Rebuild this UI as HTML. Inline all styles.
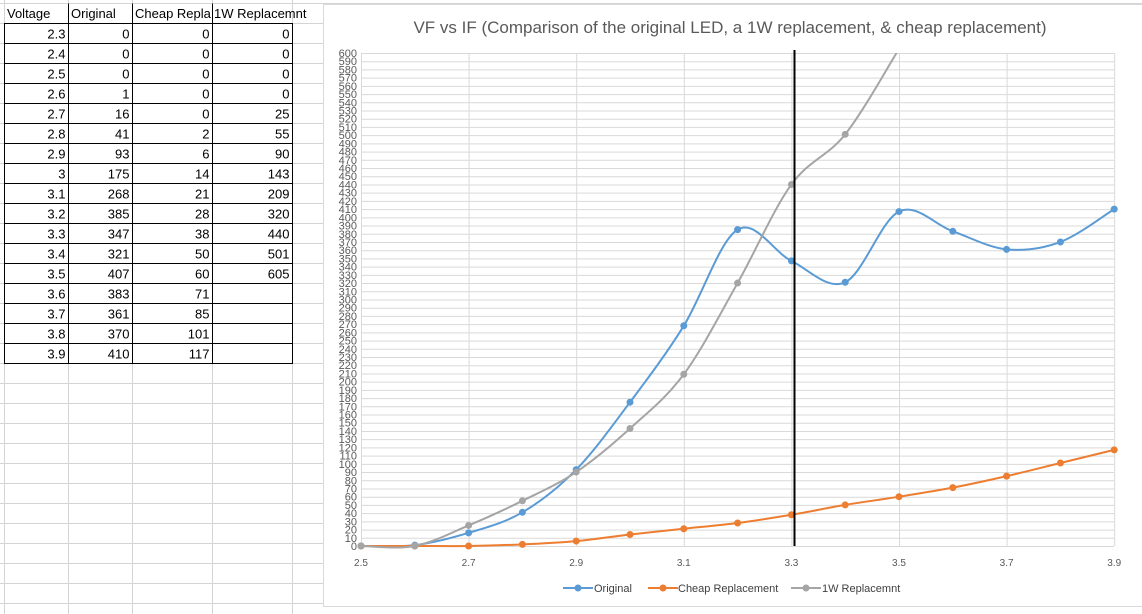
<!DOCTYPE html>
<html><head><meta charset="utf-8"><style>
body{margin:0;width:1142px;height:614px;overflow:hidden;background:#fff;font-family:"Liberation Sans",sans-serif}
svg{position:absolute;left:0;top:0}
</style></head><body>
<svg id="s" width="1142" height="614" xmlns="http://www.w3.org/2000/svg" font-family="Liberation Sans, sans-serif">
<g id="grid" stroke="#d4d4d4" stroke-width="1"></g>
<g id="tbl" font-size="13" fill="#000"></g>
<rect x="323.5" y="4.5" width="830" height="602" fill="#fff" stroke="#d9d9d9"/>
<text x="730" y="33" font-size="17" fill="#595959" text-anchor="middle">VF vs IF (Comparison of the original LED, a 1W replacement, &amp; cheap replacement)</text>
<g id="plot"></g>
<g font-size="11" fill="#404040">
<line x1="563" y1="588" x2="593" y2="588" stroke="#5b9bd5" stroke-width="2"/><circle cx="578" cy="588" r="3.5" fill="#5b9bd5"/><text x="594" y="592">Original</text>
<line x1="648" y1="588" x2="678" y2="588" stroke="#ed7d31" stroke-width="2"/><circle cx="663" cy="588" r="3.5" fill="#ed7d31"/><text x="678" y="592">Cheap Replacement</text>
<line x1="791" y1="588" x2="821" y2="588" stroke="#a5a5a5" stroke-width="2"/><circle cx="806" cy="588" r="3.5" fill="#a5a5a5"/><text x="822" y="592">1W Replacemnt</text>
</g>
</svg>
<script>
const NS="http://www.w3.org/2000/svg";
function el(p,t,a,txt){const e=document.createElementNS(NS,t);for(const k in a)e.setAttribute(k,a[k]);if(txt!==undefined)e.textContent=txt;p.appendChild(e);return e;}
const g=document.getElementById('grid');
for(let y=3.5;y<614;y+=20)el(g,'line',{x1:0,y1:y,x2:1142,y2:y});
[4.5,68.5,132.5,212.5,292.5].forEach(x=>el(g,'line',{x1:x,y1:0,x2:x,y2:614}));
const t=document.getElementById('tbl');
const rows=[["2.3",0,0,0],["2.4",0,0,0],["2.5",0,0,0],["2.6",1,0,0],["2.7",16,0,25],["2.8",41,2,55],["2.9",93,6,90],["3",175,14,143],["3.1",268,21,209],["3.2",385,28,320],["3.3",347,38,440],["3.4",321,50,501],["3.5",407,60,605],["3.6",383,71,""],["3.7",361,85,""],["3.8",370,101,""],["3.9",410,117,""]];
el(t,'text',{x:7,y:18},'Voltage');el(t,'text',{x:71,y:18},'Original');el(t,'text',{x:135,y:18},'Cheap Repla');el(t,'text',{x:214,y:18},'1W Replacemnt');
const cx=[4.5,68.5,132.5,212.5,292.5];
rows.forEach((r,i)=>{const y=23.5+i*20;r.forEach((v,j)=>{el(t,'text',{x:cx[j+1]-3,y:y+15,'text-anchor':'end'},String(v));});});
el(t,'rect',{x:4.5,y:23.5,width:288,height:340,fill:'none',stroke:'#000'});
for(let i=1;i<17;i++)el(t,'line',{x1:4.5,y1:23.5+i*20,x2:292.5,y2:23.5+i*20,stroke:'#000'});
[68.5,132.5,212.5].forEach(x=>el(t,'line',{x1:x,y1:3.5,x2:x,y2:363.5,stroke:'#000'}));
// plot
const p=document.getElementById('plot');
const X=v=>361+(v-2.5)/0.1*53.8, Y=v=>546-v*0.8217;
for(let v=0;v<=600;v+=10){el(p,'line',{x1:362,y1:Y(v)+.5,x2:1114,y2:Y(v)+.5,stroke:'#d9d9d9'});el(p,'text',{x:357,y:Y(v)+4,'font-size':11,fill:'#595959','text-anchor':'end'},String(v));}
for(let i=0;i<=7;i++){const v=2.5+i*0.2;el(p,'line',{x1:X(v)+.5,y1:Y(600),x2:X(v)+.5,y2:546,stroke:'#d9d9d9'});el(p,'text',{x:X(v),y:566,'font-size':10,fill:'#595959','text-anchor':'middle'},v.toFixed(1));}
const cp=el(p,'clipPath',{id:'c'});el(cp,'rect',{x:355,y:Y(600),width:770,height:560});
function curve(d,col){const pts=d.map((v,i)=>[X(2.5+i*0.1),Y(v)]);let s='M'+pts[0];for(let i=0;i<pts.length-1;i++){const p0=pts[Math.max(0,i-1)],p1=pts[i],p2=pts[i+1],p3=pts[Math.min(pts.length-1,i+2)];const k=1/6;s+=` C${p1[0]+(p2[0]-p0[0])*k},${p1[1]+(p2[1]-p0[1])*k} ${p2[0]-(p3[0]-p1[0])*k},${p2[1]-(p3[1]-p1[1])*k} ${p2[0]},${p2[1]}`;}
const gg=el(p,'g',{'clip-path':'url(#c)'});el(gg,'path',{d:s,fill:'none',stroke:col,'stroke-width':2});pts.forEach(q=>{if(q[1]>=Y(600))el(gg,'circle',{cx:q[0],cy:q[1],r:3.5,fill:col});});}
curve([0,1,16,41,93,175,268,385,347,321,407,383,361,370,410],'#5b9bd5');
curve([0,0,0,2,6,14,21,28,38,50,60,71,85,101,117],'#ed7d31');
curve([0,0,25,55,90,143,209,320,440,501,605],'#a5a5a5');
el(p,'line',{x1:794.5,y1:50,x2:794.5,y2:546,stroke:'#000','stroke-width':2});
</script>
</body></html>
